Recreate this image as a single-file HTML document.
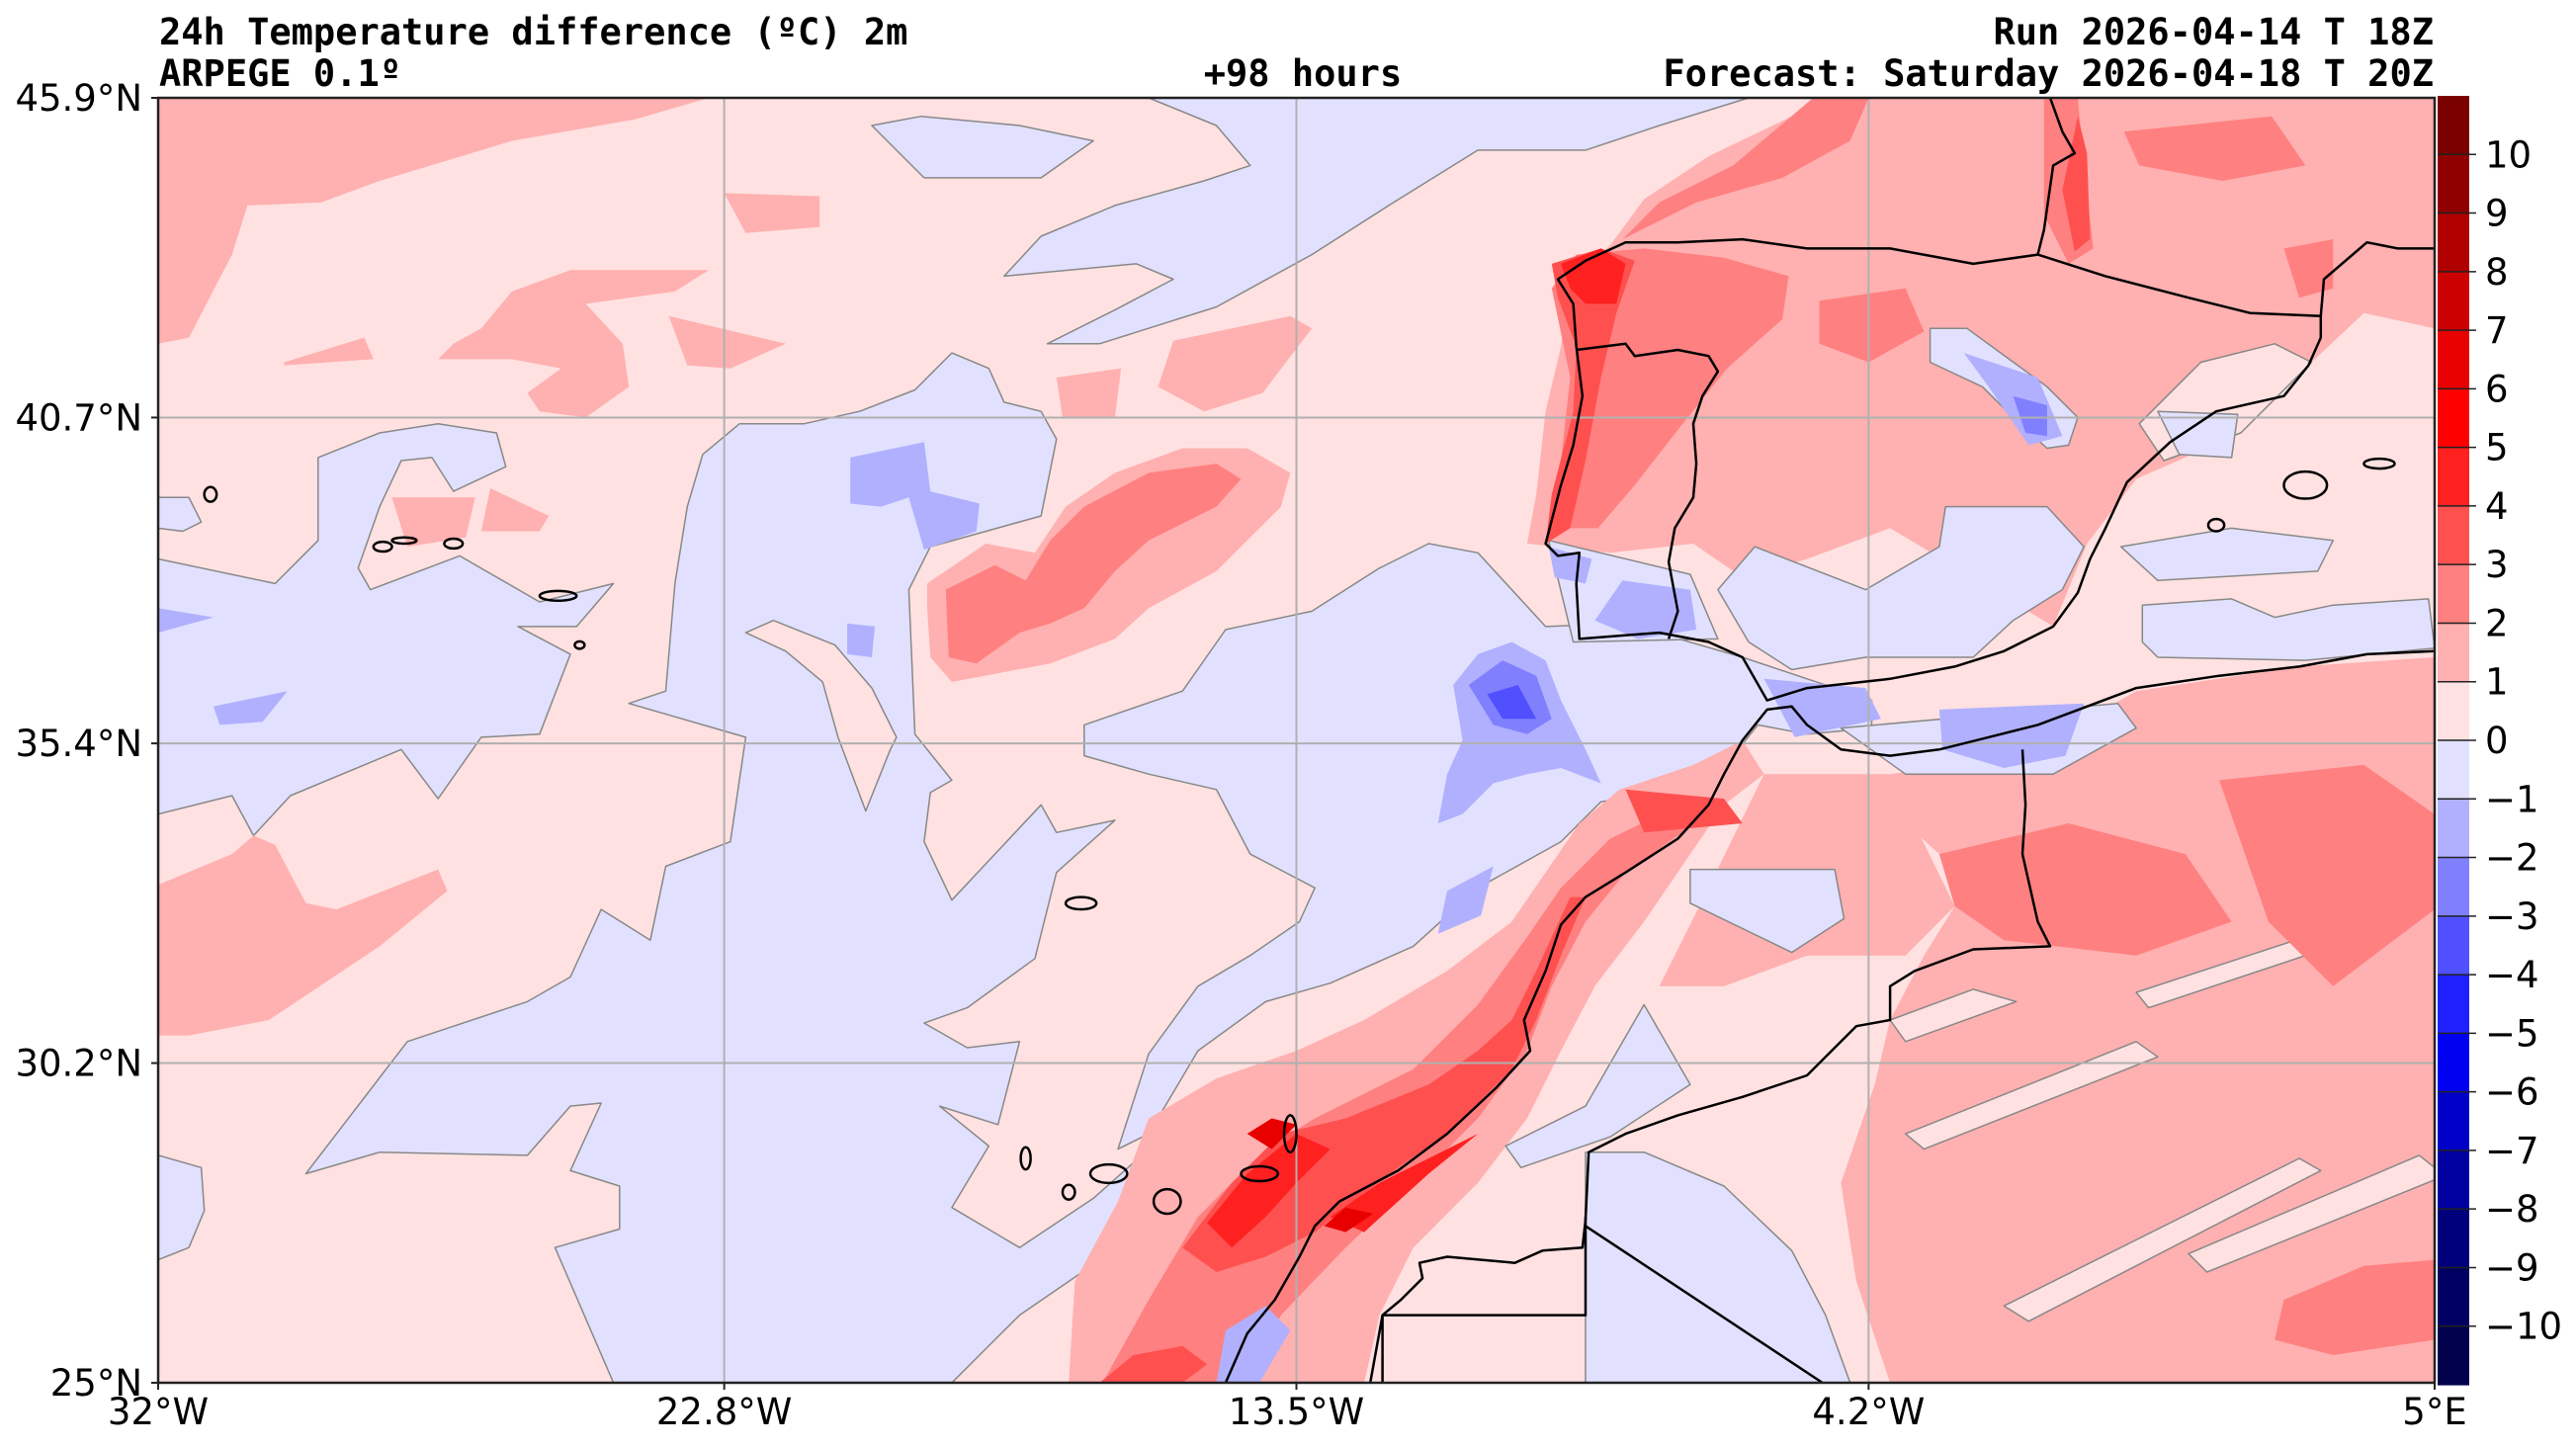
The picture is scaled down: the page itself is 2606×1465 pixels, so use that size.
<!DOCTYPE html>
<html><head><meta charset="utf-8"><title>ARPEGE 24h Temperature difference</title>
<style>
html,body{margin:0;padding:0;background:#fff;}
svg{display:block;}
text{font-family:"DejaVu Sans","Liberation Sans",sans-serif;fill:#000;}
.mono{font-family:"DejaVu Sans Mono","Liberation Mono",monospace;font-weight:bold;}
</style></head>
<body>
<svg id="chart" xmlns="http://www.w3.org/2000/svg" width="2606" height="1465" viewBox="0 0 2606 1465">
  <text class="mono" x="161" y="45" font-size="37">24h Temperature difference (ºC) 2m</text>
  <text class="mono" x="161" y="87" font-size="37">ARPEGE 0.1º</text>
  <text class="mono" x="1318" y="87" font-size="37" text-anchor="middle">+98 hours</text>
  <text class="mono" x="2462" y="45" font-size="37" text-anchor="end">Run 2026-04-14 T 18Z</text>
  <text class="mono" x="2462" y="87" font-size="37" text-anchor="end">Forecast: Saturday 2026-04-18 T 20Z</text>
  <defs><clipPath id="mapclip"><rect x="160" y="99" width="2303" height="1300"/></clipPath></defs>
  <g id="field" clip-path="url(#mapclip)"></g>
  <g id="grid"></g>
  <g id="coast" clip-path="url(#mapclip)"></g>
  <rect x="160" y="99" width="2303" height="1300" fill="none" stroke="#222" stroke-width="2.5"/>
  <g id="axes"></g>
  <g id="cbar"></g>
</svg>
<script>
// ---- data ----
const bandLevels = [-11,-10,-9,-8,-7,-6,-5,-4,-3,-2,-1,0,1,2,3,4,5,6,7,8,9,10,11];
const bandColors = ['#00004c','#000062','#00007a','#0000a0','#0000c8','#0000f0','#2020ff','#5050ff','#8080ff','#b0b0ff','#e1e1ff','#ffe1e1','#ffb0b0','#ff8080','#ff5050','#ff2020','#ff0000','#e80000','#cc0000','#b00000','#900000','#7a0000'];
const cbarTicks = [-10,-9,-8,-7,-6,-5,-4,-3,-2,-1,0,1,2,3,4,5,6,7,8,9,10];
const latTicks = [25,30.2,35.4,40.7,45.9];
const latLabels = ['25°N','30.2°N','35.4°N','40.7°N','45.9°N'];
const lonTicks = [-32,-22.8,-13.5,-4.2,5];
const lonLabels = ['32°W','22.8°W','13.5°W','4.2°W','5°E'];

const atlWest = [-32,38.4,-30.1,38.0,-29.4,38.7,-29.4,40.05,-28.4,40.45,-27.45,40.6,-26.5,40.45,-26.35,39.9,-27.2,39.5,-27.55,40.05,-28.05,40.0,-28.4,39.25,-28.75,38.25,-28.55,37.9,-27.1,38.45,-25.8,37.7,-24.6,38.0,-25.2,37.3,-26.15,37.3,-25.3,36.85,-25.8,35.55,-26.75,35.5,-27.45,34.5,-28.05,35.3,-29.85,34.55,-30.45,33.9,-30.8,34.55,-32,34.25];
const atlWestSmall = [-32,39.4,-31.5,39.4,-31.3,39.0,-31.6,38.85,-32,38.9];
const atlCentral = [-24.35,36.05,-23.75,36.25,-23.6,38.0,-23.4,39.25,-23.15,40.1,-22.55,40.6,-21.5,40.6,-20.6,40.8,-19.7,41.15,-19.1,41.75,-18.5,41.5,-18.25,40.95,-17.65,40.8,-17.4,40.35,-17.65,39.1,-19.45,38.6,-19.8,37.9,-19.7,35.55,-19.1,34.8,-19.45,34.6,-19.55,33.8,-19.1,32.85,-17.65,34.4,-17.4,33.95,-16.45,34.15,-17.4,33.3,-17.75,31.9,-18.85,31.1,-19.55,30.85,-18.85,30.45,-18.0,30.55,-18.35,29.2,-19.3,29.5,-18.5,28.85,-19.1,27.85,-18.0,27.2,-16.8,28.0,-15.9,28.8,-16.4,27.2,-18.0,26.1,-19.1,25.0,-24.6,25.0,-25.55,27.2,-24.5,27.5,-24.5,28.2,-25.3,28.45,-24.8,29.55,-25.3,29.5,-26.0,28.7,-28.4,28.75,-29.6,28.4,-27.95,30.55,-26.0,31.2,-25.3,31.6,-24.8,32.7,-24.0,32.2,-23.75,33.4,-22.7,33.8,-22.45,35.5];
const atlSouthWest = [-32,28.7,-31.3,28.5,-31.25,27.8,-31.5,27.2,-32,27.0];
const offMorocco = [-14.65,37.25,-13.25,37.55,-12.15,38.25,-11.35,38.65,-10.55,38.5,-9.45,37.3,-8.15,37.35,-6.25,36.8,-5.2,36.45,-4.15,36.1,-4.15,35.65,-5.2,35.55,-6.0,35.7,-6.4,35.2,-7.6,34.6,-8.55,34.45,-9.2,33.8,-10.55,33.05,-11.6,32.1,-12.95,31.5,-14.0,31.2,-15.1,30.4,-15.9,29.05,-16.4,28.8,-15.9,30.35,-15.1,31.45,-14.25,31.95,-13.45,32.5,-13.2,33.05,-14.25,33.6,-14.8,34.65,-15.9,34.9,-16.95,35.2,-16.95,35.7,-15.35,36.25];
const northBlob = [-20.4,45.45,-19.6,45.6,-18.0,45.45,-16.8,45.2,-17.65,44.6,-19.55,44.6];
const northStrip = [-6.15,45.9,-7.6,45.45,-8.8,45.05,-10.55,45.05,-12.0,44.15,-13.25,43.35,-14.8,42.5,-16.7,41.9,-17.55,41.9,-16.45,42.45,-15.5,42.95,-16.1,43.2,-18.25,43.0,-17.65,43.65,-16.45,44.15,-15.0,44.55,-14.25,44.8,-14.8,45.45,-15.9,45.9];
const pinkIsland = [-22.45,37.2,-21.8,36.9,-21.2,36.4,-20.95,35.5,-20.5,34.3,-20.1,35.3,-20.0,35.5,-20.4,36.3,-21.0,37.0,-22.0,37.4];
const nwWarm = [-32,45.9,-23.05,45.9,-24.25,45.55,-26.25,45.2,-28.4,44.55,-29.35,44.2,-30.55,44.15,-30.8,43.35,-31.5,42.0,-32,41.9];
const warmBlobA = [-26.25,42.75,-25.3,43.1,-23.05,43.1,-23.6,42.75,-25.05,42.55,-24.45,41.9,-24.35,41.2,-25.05,40.7,-25.8,40.8,-26.0,41.1,-25.45,41.5,-26.25,41.65,-27.45,41.65,-27.2,41.9,-26.75,42.15];
const warmBlobB = [-29.95,41.6,-28.65,42.0,-28.5,41.65,-29.95,41.55];
const warmBlobC = [-23.7,42.35,-21.8,41.9,-22.7,41.5,-23.4,41.55];
const warmBlobD = [-22.8,44.35,-21.25,44.3,-21.25,43.8,-22.45,43.7];
const warmBlobE = [-17.4,41.35,-16.35,41.5,-16.45,40.7,-17.3,40.7];
const warmBlobF = [-15.5,41.95,-13.6,42.35,-13.25,42.15,-14.05,41.1,-15.0,40.8,-15.75,41.2];
const warmBlobG = [-28.2,39.4,-26.85,39.4,-27.0,38.75,-27.95,38.6];
const warmBlobH = [-26.6,39.55,-25.65,39.1,-25.8,38.85,-26.75,38.85];
const atlWarmOuter = [-19.5,38.0,-18.55,38.65,-17.75,38.5,-17.25,39.25,-16.45,39.8,-15.35,40.2,-14.3,40.2,-13.6,39.8,-13.75,39.25,-14.3,38.7,-14.8,38.2,-15.9,37.6,-16.45,37.1,-17.5,36.7,-18.3,36.55,-19.1,36.4,-19.45,36.8,-19.5,37.6];
const atlWarmInner = [-19.2,37.9,-18.4,38.3,-17.9,38.05,-17.5,38.7,-16.95,39.25,-15.9,39.8,-14.8,39.95,-14.4,39.7,-14.8,39.25,-15.9,38.7,-16.45,38.2,-16.95,37.6,-17.5,37.35,-18.0,37.2,-18.7,36.7,-19.15,36.8];
const swWarm = [-32,33.1,-30.8,33.6,-30.45,33.9,-30.1,33.75,-29.6,32.8,-29.1,32.7,-27.45,33.35,-27.3,33.0,-28.4,32.1,-30.2,30.9,-31.5,30.65,-32,30.65];
const iberiaWarm = [-9.75,38.65,-9.6,39.45,-9.45,40.8,-9.2,41.85,-9.05,42.95,-8.4,43.5,-7.85,44.25,-6.8,44.95,-5.45,45.6,-4.9,45.9,5,45.9,5,42.15,3.85,42.4,3.0,41.6,1.85,40.45,0.15,39.7,-0.65,38.65,-1.2,37.3,-2.5,38.1,-3.85,38.9,-5.2,38.4,-6.25,38.1,-7.05,38.65,-8.4,38.5];
const iberiaPale = [1.2,41.6,2.4,41.9,3.0,41.6,1.85,40.45,0.6,40.0,0.2,40.6];
const moroccoWarm = [-17.2,25.0,-17.1,26.65,-16.4,27.95,-15.9,29.3,-14.8,29.95,-13.5,30.4,-12.4,30.9,-11.05,31.7,-10.0,32.5,-9.45,33.3,-8.9,34.1,-8.25,34.65,-7.05,35.05,-6.25,35.45,-5.9,34.9,-6.55,34.4,-7.1,33.6,-7.85,32.5,-8.65,31.45,-9.2,30.4,-9.75,29.3,-10.55,28.25,-11.6,27.2,-12.15,26.1,-12.4,25.0];
const moroccoInland = [-5.9,34.9,-3.85,34.9,-2.8,32.75,-3.6,31.95,-5.2,31.95,-6.55,31.45,-7.6,31.45,-6.8,33.05];
const algeriaWarm = [-3.85,34.9,-1.7,35.2,0.15,36.25,2.8,36.65,5,36.8,5,25,-3.85,25,-4.4,26.65,-4.65,28.25,-4.1,29.85,-3.85,30.9,-3.3,31.95,-2.8,32.75,-3.05,33.6,-3.6,34.1];
const streak1 = [-3.6,29.05,0.15,30.55,0.5,30.3,-3.3,28.8];
const streak2 = [-2.0,26.25,2.8,28.65,3.15,28.45,-1.6,26.0];
const streak3 = [0.15,31.35,3.35,32.4,3.5,32.15,0.35,31.1];
const streak4 = [-3.85,30.9,-2.5,31.4,-1.8,31.2,-3.6,30.55];
const streak5 = [1.0,27.1,4.75,28.7,5,28.5,5,28.3,1.3,26.8];
const iberiaHot = [-9.35,42.8,-8.95,43.35,-7.85,43.45,-6.55,43.3,-5.5,43.0,-5.6,42.3,-6.5,41.5,-7.3,40.5,-8.0,39.6,-8.6,38.9,-9.05,38.9,-9.2,40.0,-9.05,41.35];
const castileHot = [-5.0,42.6,-3.6,42.8,-3.3,42.1,-4.2,41.6,-5.0,41.9];
const franceHotA = [-1.35,45.9,-0.8,45.9,-0.7,44.8,-0.55,43.45,-0.95,43.2,-1.35,44.0];
const franceHotB = [-0.05,45.35,2.35,45.6,2.9,44.8,1.55,44.55,0.2,44.8];
const franceHotC = [2.55,43.45,3.35,43.6,3.35,42.8,2.8,42.65];
const biscayHot = [-5.1,45.9,-4.2,45.9,-4.5,45.2,-5.6,44.6,-7.0,44.2,-8.2,43.6,-7.6,44.2,-6.4,44.8];
const moroccoHot = [-16.65,25.0,-15.9,26.35,-15.1,27.7,-14.0,28.8,-13.2,29.3,-11.6,30.1,-10.55,31.15,-9.75,32.25,-9.2,33.05,-8.4,33.85,-7.05,34.5,-6.8,34.25,-8.15,33.3,-8.8,32.5,-9.35,31.45,-9.75,30.4,-10.55,29.3,-11.6,28.25,-12.7,27.2,-13.75,26.1,-14.3,25.0];
const algeriaHotA = [-3.05,33.6,-0.95,34.1,0.95,33.6,1.7,32.5,0.15,31.95,-2.0,32.2,-2.8,32.75];
const algeriaHotB = [1.5,34.8,3.85,35.05,5,34.25,5,32.7,3.35,31.45,2.3,32.5];
const algeriaHotC = [2.55,26.35,3.85,26.9,5,27.0,5,25.7,3.35,25.45,2.4,25.7];
const spainSouthCool = [-2.95,39.25,-1.3,39.25,-0.7,38.6,-1.05,37.9,-1.85,37.4,-2.5,36.8,-4.25,36.8,-5.45,36.6,-6.15,37.05,-6.65,37.9,-6.05,38.6,-4.25,37.9,-3.05,38.6];
const portugalCool = [-9.4,38.7,-7.1,38.15,-6.65,37.1,-9.0,37.05];
const spainCentralCool = [-3.2,42.15,-2.6,42.15,-1.3,41.2,-0.8,40.7,-0.95,40.25,-1.3,40.2,-1.85,40.7,-2.35,41.2,-3.2,41.6];
const medCoolA = [0.25,37.65,1.7,37.75,2.4,37.45,3.35,37.65,4.9,37.75,5,36.95,2.9,36.75,0.5,36.8,0.25,37.05];
const medCoolB = [-0.1,38.6,1.7,38.9,3.35,38.7,3.1,38.2,0.5,38.05];
const medCoolC = [0.5,40.8,1.8,40.75,1.7,40.05,0.85,40.1];
const alboranCool = [-4.65,35.65,-0.15,36.05,0.15,35.65,-1.2,34.9,-3.6,34.9];
const saharaCool = [-8.8,28.75,-7.85,28.75,-6.55,28.2,-5.45,27.15,-4.9,26.1,-4.5,25.0,-8.8,25.0];
const moroccoStripCool = [-7.85,31.15,-7.1,29.85,-8.4,29.0,-9.85,28.5,-10.1,28.85,-8.8,29.5];
const atlasCool = [-7.1,33.35,-4.75,33.35,-4.6,32.55,-5.45,32.0,-7.1,32.8];
const coolB1 = [-31.1,36.0,-29.9,36.25,-30.3,35.75,-31.0,35.7];
const coolB2 = [-32,37.6,-31.1,37.45,-32,37.2];
const coolB3 = [-20.75,40.05,-19.55,40.3,-19.45,39.5,-18.65,39.3,-18.7,38.85,-19.55,38.55,-19.8,39.4,-20.25,39.25,-20.75,39.3];
const coolB4 = [-20.8,37.35,-20.35,37.3,-20.4,36.8,-20.8,36.85];
const coolB5 = [-10.95,36.35,-10.55,36.85,-10.0,37.05,-9.45,36.75,-9.2,36.1,-8.8,35.3,-8.55,34.75,-9.2,35.0,-9.75,34.9,-10.3,34.75,-10.8,34.25,-11.2,34.1,-11.05,34.9,-10.8,35.45];
const coolB6 = [-11.05,33.0,-10.3,33.4,-10.5,32.6,-11.2,32.3];
const coolB7 = [-14.65,25.85,-14.0,26.25,-13.6,25.85,-14.1,25.0,-14.8,25.0];
const coolB8 = [-8.2,38.05,-7.1,37.9,-7.0,37.25,-7.95,37.1,-8.65,37.4];
const coolB9 = [-9.4,38.6,-8.7,38.4,-8.8,38.0,-9.3,38.1];
const coolB10 = [-2.65,41.75,-1.45,41.35,-1.05,40.4,-1.6,40.25,-2.25,41.2];
const coolB11 = [-5.9,36.45,-4.25,36.3,-4.0,35.8,-5.4,35.5];
const coolB12 = [-3.05,35.95,-0.7,36.05,-1.0,35.2,-2.0,35.0,-3.0,35.3];
const coolC1 = [-10.7,36.35,-10.15,36.75,-9.6,36.5,-9.35,35.8,-9.75,35.55,-10.3,35.7];
const coolC2 = [-1.85,41.05,-1.3,40.9,-1.3,40.4,-1.65,40.45];
const coolD1 = [-10.4,36.2,-9.9,36.35,-9.6,35.8,-10.15,35.8];
const hotD1 = [-9.35,43.2,-8.55,43.45,-8.0,43.25,-8.3,42.4,-8.55,41.35,-8.8,40.0,-9.05,38.9,-9.45,38.65,-9.35,39.45,-9.0,40.8,-8.95,41.85,-9.25,42.65];
const hotD2 = [-15.35,27.2,-14.55,28.25,-13.75,29.05,-12.7,29.3,-11.35,29.85,-10.55,30.4,-10.0,30.9,-9.6,31.7,-9.35,32.25,-9.05,32.9,-8.8,32.9,-9.2,31.95,-9.6,30.9,-10.0,30.1,-11.05,29.05,-11.85,28.5,-12.7,27.85,-13.2,27.45,-14.0,27.05,-14.8,26.8];
const hotD3 = [-16.7,25.0,-16.15,25.45,-15.35,25.6,-14.95,25.3,-15.35,25.0];
const hotD4 = [-8.15,34.65,-6.55,34.5,-6.25,34.1,-7.85,33.95];
const hotD5 = [-0.8,45.6,-0.65,45.0,-0.6,43.6,-0.85,43.4,-1.05,44.4];
const hotE1 = [-9.2,43.2,-8.55,43.45,-8.15,43.2,-8.3,42.55,-8.8,42.55,-9.05,42.8];
const hotE2 = [-14.95,27.6,-14.3,28.4,-13.5,29.05,-12.95,28.8,-13.5,28.25,-14.0,27.7,-14.55,27.2];
const hotE3 = [-12.95,27.7,-12.15,28.25,-11.05,28.8,-10.55,29.05,-11.35,28.4,-12.4,27.45];
const hotF1 = [-13.05,27.55,-12.7,27.85,-12.25,27.75,-12.7,27.45];
const hotF2 = [-14.3,29.05,-13.9,29.3,-13.5,29.2,-13.9,28.8];

const fieldLayers = [
  [-0.5, atlWest],[-0.5, atlWestSmall],[-0.5, atlCentral],[-0.5, atlSouthWest],[-0.5, offMorocco],[-0.5, northBlob],[-0.5, northStrip],
  [0.5, pinkIsland],
  [1.5, nwWarm],[1.5, warmBlobA],[1.5, warmBlobB],[1.5, warmBlobC],[1.5, warmBlobD],[1.5, warmBlobE],[1.5, warmBlobF],[1.5, warmBlobG],[1.5, warmBlobH],
  [1.5, atlWarmOuter],[1.5, swWarm],[1.5, iberiaWarm],[1.5, moroccoWarm],[1.5, moroccoInland],[1.5, algeriaWarm],
  [0.5, streak1],[0.5, streak2],[0.5, streak3],[0.5, streak4],[0.5, streak5],[0.5, iberiaPale],
  [2.5, atlWarmInner],[2.5, iberiaHot],[2.5, castileHot],[2.5, franceHotA],[2.5, franceHotB],[2.5, franceHotC],[2.5, biscayHot],[2.5, moroccoHot],[2.5, algeriaHotA],[2.5, algeriaHotB],[2.5, algeriaHotC],
  [-0.5, spainSouthCool],[-0.5, portugalCool],[-0.5, spainCentralCool],[-0.5, medCoolA],[-0.5, medCoolB],[-0.5, medCoolC],[-0.5, alboranCool],[-0.5, saharaCool],[-0.5, moroccoStripCool],[-0.5, atlasCool],
  [-1.5, coolB1],[-1.5, coolB2],[-1.5, coolB3],[-1.5, coolB4],[-1.5, coolB5],[-1.5, coolB6],[-1.5, coolB7],[-1.5, coolB8],[-1.5, coolB9],[-1.5, coolB10],[-1.5, coolB11],[-1.5, coolB12],
  [-2.5, coolC1],[-2.5, coolC2],[-3.5, coolD1],
  [3.5, hotD1],[3.5, hotD2],[3.5, hotD3],[3.5, hotD4],[3.5, hotD5],
  [4.5, hotE1],[4.5, hotE2],[4.5, hotE3],
  [6.5, hotF1],[6.5, hotF2]
];

const coastIberia = [-1.25,45.9,-1.05,45.35,-0.85,45.0,-1.2,44.8,-1.35,43.75,-1.45,43.35,-2.5,43.2,-3.85,43.45,-5.2,43.45,-6.25,43.6,-7.3,43.55,-8.15,43.55,-8.8,43.25,-9.25,42.95,-9.0,42.55,-8.95,41.85,-8.85,41.05,-9.0,40.25,-9.2,39.6,-9.45,38.65,-9.25,38.45,-8.9,38.5,-8.95,38.0,-8.9,37.1,-7.6,37.2,-6.8,37.05,-6.25,36.8,-5.85,36.1,-5.2,36.3,-3.85,36.45,-2.8,36.65,-2.0,36.9,-1.2,37.3,-0.8,37.85,-0.6,38.4,-0.35,38.9,0.0,39.65,0.7,40.3,1.45,40.8,2.55,41.05,2.95,41.55,3.15,42.0,3.15,42.35,3.2,42.95,3.9,43.55,4.4,43.45,5,43.45];
const pyrenees = [-1.45,43.35,-0.35,43.0,1.0,42.65,2.0,42.4,3.15,42.35];
const portugalBorder = [-8.95,41.8,-8.15,41.9,-8.0,41.7,-7.3,41.8,-6.8,41.7,-6.65,41.45,-6.9,41.05,-7.05,40.6,-7.0,39.95,-7.05,39.4,-7.35,38.9,-7.45,38.35,-7.3,37.55,-7.45,37.1];
const coastAfrica = [5,36.9,3.9,36.85,2.8,36.65,1.5,36.5,0.15,36.3,-0.65,36.0,-1.45,35.7,-2.25,35.5,-3.05,35.3,-3.85,35.2,-4.65,35.3,-5.2,35.7,-5.45,36.0,-5.85,35.95,-6.25,35.45,-6.55,34.9,-6.8,34.4,-7.3,33.85,-8.15,33.3,-8.8,32.9,-9.2,32.45,-9.45,31.7,-9.8,30.9,-9.7,30.4,-10.25,29.8,-11.05,29.05,-11.85,28.45,-12.8,27.95,-13.2,27.55,-13.45,27.05,-13.85,26.35,-14.3,25.8,-14.65,25.0];
const borderMA = [-1.7,35.3,-1.65,34.4,-1.7,33.6,-1.45,32.5,-1.25,32.1,-2.5,32.05,-3.45,31.7,-3.85,31.45,-3.85,30.9,-4.4,30.8,-5.2,30.0,-6.25,29.65,-7.3,29.35,-8.15,29.05,-8.75,28.75,-8.8,27.65,-8.85,27.2,-9.5,27.15,-9.95,26.95,-11.05,27.05,-11.5,26.95,-11.45,26.7,-11.8,26.35,-12.1,26.1,-12.3,25.0];
const borderBox = [-12.1,26.1,-8.8,26.1,-8.8,27.7];
const borderBoxLeft = [-12.1,26.1,-12.1,25.0];
const borderDiag = [-8.8,27.55,-4.95,25.0];
const islands = [[-31.15,39.45,0.1,0.12],[-28.35,38.6,0.15,0.08],[-28.0,38.7,0.2,0.05],[-27.2,38.65,0.15,0.08],[-25.5,37.8,0.3,0.08],[-25.15,37.0,0.08,0.06],[-17.0,32.8,0.25,0.1],[-17.9,28.65,0.08,0.18],[-17.2,28.1,0.1,0.12],[-16.55,28.4,0.3,0.15],[-15.6,27.95,0.22,0.2],[-14.1,28.4,0.3,0.12],[-13.6,29.05,0.1,0.3],[2.9,39.6,0.35,0.22],[1.45,38.95,0.13,0.1],[4.1,39.95,0.25,0.08]];

// ---- axes ----
const X0=160, X1=2463, Y0=99, Y1=1399, LON0=-32, LON1=5, LAT0=25, LAT1=45.9;
function xOf(lon){return X0+(lon-LON0)/(LON1-LON0)*(X1-X0);}
function yOf(lat){return Y1-(lat-LAT0)/(LAT1-LAT0)*(Y1-Y0);}
const CB_X=2466, CB_W=32, CB_TOP=97, CB_BOT=1401;
function cbY(v){return CB_BOT-(v-bandLevels[0])/(bandLevels[bandLevels.length-1]-bandLevels[0])*(CB_BOT-CB_TOP);}
function colorFor(v){for(let i=0;i<bandLevels.length-1;i++){if(v>=bandLevels[i]&&v<bandLevels[i+1])return bandColors[i];}return bandColors[bandColors.length-1];}
const NS='http://www.w3.org/2000/svg';
function mk(tag,attrs,parent){const e=document.createElementNS(NS,tag);for(const k in attrs)e.setAttribute(k,attrs[k]);parent.appendChild(e);return e;}
function ptsStr(a){let s='';for(let i=0;i<a.length;i+=2){s+=xOf(a[i]).toFixed(1)+','+yOf(a[i+1]).toFixed(1)+' ';}return s;}

const field=document.getElementById('field');
const base=mk('rect',{x:X0,y:Y0,width:X1-X0,height:Y1-Y0,fill:colorFor(0.5)},field);


fieldLayers.forEach(function(L,i){
  const edge=(L[0]<0&&L[0]>-1)||(L[0]>0&&L[0]<1);
  const p=mk('polygon',{points:ptsStr(L[1]),fill:colorFor(L[0]),stroke:edge?'#888':'none','stroke-width':edge?1.5:0,'stroke-linejoin':'round'},field);
  
  
});

const grid=document.getElementById('grid');
lonTicks.slice(1,-1).forEach(function(lon){
  const l=mk('line',{x1:xOf(lon),x2:xOf(lon),y1:Y0,y2:Y1,stroke:'#b0b0b0','stroke-width':2},grid);
  
  
});
latTicks.slice(1,-1).forEach(function(lat){
  const l=mk('line',{x1:X0,x2:X1,y1:yOf(lat),y2:yOf(lat),stroke:'#b0b0b0','stroke-width':2},grid);
  
  
});

const coast=document.getElementById('coast');
[coastIberia,pyrenees,portugalBorder,coastAfrica,borderMA,borderBox,borderBoxLeft,borderDiag].forEach(function(a){
  const pl=mk('polyline',{points:ptsStr(a),fill:'none',stroke:'#000','stroke-width':2.5,'stroke-linejoin':'round'},coast);
  
  
});
islands.forEach(function(d){
  const e=mk('ellipse',{cx:xOf(d[0]),cy:yOf(d[1]),rx:d[2]/(LON1-LON0)*(X1-X0),ry:d[3]/(LAT1-LAT0)*(Y1-Y0),fill:'none',stroke:'#000','stroke-width':2.5},coast);
  
  
});

const axes=document.getElementById('axes');
latTicks.forEach(function(lat,i){
  const t=mk('line',{x1:X0-7,x2:X0,y1:yOf(lat),y2:yOf(lat),stroke:'#222','stroke-width':2},axes);
  
  
  const tx=mk('text',{x:X0-16,y:yOf(lat)+13,'font-size':37,'text-anchor':'end'},axes);
  tx.textContent=latLabels[i];
  
  
});
lonTicks.forEach(function(lon,i){
  const t=mk('line',{x1:xOf(lon),x2:xOf(lon),y1:Y1,y2:Y1+7,stroke:'#222','stroke-width':2},axes);
  
  
  const tx=mk('text',{x:xOf(lon),y:Y1+42,'font-size':37,'text-anchor':'middle'},axes);
  tx.textContent=lonLabels[i];
  
  
});

const cbar=document.getElementById('cbar');
for(let i=0;i<bandLevels.length-1;i++){
  const y1=cbY(bandLevels[i+1]), y2=cbY(bandLevels[i]);
  const r=mk('rect',{x:CB_X,y:y1.toFixed(2),width:CB_W,height:(y2-y1+0.6).toFixed(2),fill:bandColors[i]},cbar);
  
  
}
cbarTicks.forEach(function(v){
  const y=cbY(v);
  const t=mk('line',{x1:CB_X,x2:CB_X+CB_W+7,y1:y,y2:y,stroke:'#222','stroke-width':1.5},cbar);
  
  
  const tx=mk('text',{x:CB_X+CB_W+16,y:y+13,'font-size':37},cbar);
  tx.textContent=(v<0?'\u2212'+Math.abs(v):String(v));
  
  
});
</script>
</body></html>
